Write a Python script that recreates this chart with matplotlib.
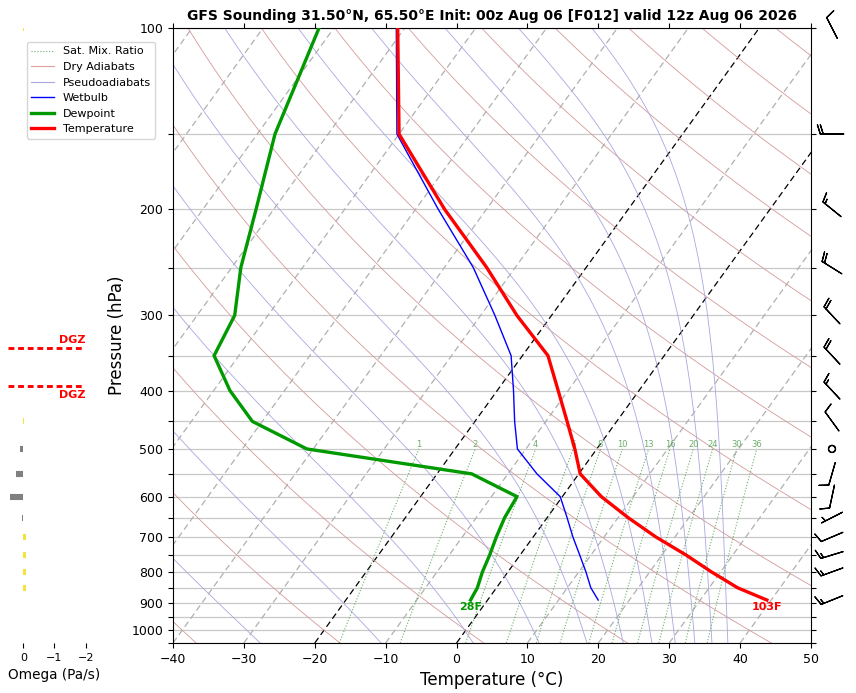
import numpy as np
import matplotlib
matplotlib.use('Agg')
import matplotlib.pyplot as plt
import matplotlib.transforms as mtransforms
from matplotlib.lines import Line2D
from matplotlib.ticker import FixedLocator, FixedFormatter, NullLocator

# ---------------- data ----------------
pressure = [891, 850, 800, 750, 700, 650, 600, 550, 500, 450, 400, 350, 300, 250, 200, 150, 100]
temperature = [39.4, 34.0, 28.7, 23.4, 17.3, 11.4, 5.5, 0.2, -3.1, -7.0, -11.4, -16.4, -24.9, -34.0, -45.9, -60.0, -71.0]
dewpoint = [-2.4, -2.7, -3.6, -4.3, -5.2, -6.0, -6.4, -15.1, -40.9, -51.4, -57.7, -63.5, -64.7, -68.7, -72.5, -77.5, -82.1]
wetbulb = [15.6, 13.3, 11.0, 8.4, 5.6, 2.8, -0.3, -5.9, -11.2, -14.4, -17.7, -21.6, -28.0, -35.9, -46.8, -60.3, -71.2]

barb_pressure = [891, 800, 750, 700, 650, 600, 550, 500, 450, 400, 350, 300, 250, 200, 150, 100]
wind_dir = [248, 250, 253, 247, 243, 192, 196, 0, 324, 317, 317, 317, 302, 309, 270, 333]
wind_speed = [15, 15, 15, 10, 5, 10, 10, 0, 10, 15, 20, 20, 20, 15, 20, 10]

omega_pressure = [850, 800, 750, 700, 650, 600, 550, 500, 450, 300, 250, 200, 100]
omega = [-0.08, -0.08, -0.08, -0.08, 0.04, 0.43, 0.23, 0.12, -0.02, 0.02, 0.02, 0.02, -0.02]

mix_ratios = [1, 2, 4, 6, 8, 10, 13, 16, 20, 24, 30, 36]
dry_thetas = list(range(-40, 241, 20))
pseudo_theta_e = list(range(-30, 171, 20))
isotherms = list(range(-150, 51, 10))

title = "GFS Sounding 31.50°N, 65.50°E Init: 00z Aug 06 [F012] valid 12z Aug 06 2026"
xticks = list(range(-40, 51, 10))
yticks = list(range(100, 1051, 50))

# ---------------- figure ----------------
W, H = 856, 693
fig = plt.figure(figsize=(W / 100, H / 100), dpi=100)
ax_l, ax_r, ax_t, ax_b = 173, 811, 28, 643
rect = [ax_l / W, 1 - ax_b / H, (ax_r - ax_l) / W, (ax_b - ax_t) / H]
ax = fig.add_axes(rect)
ax.set_yscale('log')
ax.set_ylim(1050, 100)
ax.set_xlim(-40, 50)

skew_total = 62.7  # degC shift from bottom to top
skew = mtransforms.Affine2D().skew(np.arctan(skew_total / 90.0), 0)
tr = ax.transScale + ax.transLimits + skew + ax.transAxes

# grid
ax.yaxis.set_major_locator(FixedLocator(yticks))
ax.yaxis.set_minor_locator(NullLocator())
ax.yaxis.set_major_formatter(FixedFormatter([str(v) if v % 100 == 0 else '' for v in yticks]))
ax.set_xticks(xticks)
ax.tick_params(axis='both', labelsize=9)
ax.tick_params(axis='y', left=True, right=True)
ax.tick_params(axis='x', top=True)
ax.set_axisbelow(True)
ax.yaxis.grid(True, color='#c8c8c8', lw=0.9)

# isotherms
for t in isotherms:
    col = 'black' if t in (0, -20) else '#b0b0b0'
    ax.plot([t, t], [1050, 100], transform=tr, color=col, lw=0.9, ls=(0, (5, 3)), zorder=1.5)

pgrid = np.logspace(np.log10(1050), 2, 200)

# dry adiabats
for th in dry_thetas:
    tt = (th + 273.15) * (pgrid / 1000.0) ** 0.2857 - 273.15
    ax.plot(tt, pgrid, transform=tr, color='#d49a9a', lw=0.6, zorder=1.6)

# pseudoadiabats: integrate moist lapse rate from 100 hPa down
Rd, cp, Lv, eps = 287.04, 1005.7, 2.501e6, 0.622
def dTdlnp(p, T):
    Tc = T - 273.15
    es = 6.112 * np.exp(17.67 * Tc / (Tc + 243.5))
    rs = eps * es / (p - es)
    return (Rd * T + Lv * rs) / (cp + Lv * Lv * rs * eps / (Rd * T * T))

lnp = np.linspace(np.log(100.0), np.log(1050.0), 400)
T = (np.array(pseudo_theta_e, float) + 273.15) * (100.0 / 1000.0) ** 0.2857
prof = [T.copy()]
for i in range(len(lnp) - 1):
    h = lnp[i + 1] - lnp[i]
    p0 = np.exp(lnp[i]); pm = np.exp(lnp[i] + h / 2); p1 = np.exp(lnp[i + 1])
    k1 = dTdlnp(p0, T)
    k2 = dTdlnp(pm, T + h / 2 * k1)
    k3 = dTdlnp(pm, T + h / 2 * k2)
    k4 = dTdlnp(p1, T + h * k3)
    T = T + h / 6 * (k1 + 2 * k2 + 2 * k3 + k4)
    prof.append(T.copy())
prof = np.array(prof) - 273.15
pp = np.exp(lnp)
for j in range(prof.shape[1]):
    ax.plot(prof[:, j], pp, transform=tr, color='#a8a8e0', lw=0.6, zorder=1.6)

# mixing ratio lines
pmix = np.linspace(1050, 500, 60)
for w in mix_ratios:
    e = pmix * w / (622.0 + w)
    lg = np.log(e / 6.112)
    td = 243.5 * lg / (17.67 - lg)
    ax.plot(td, pmix, transform=tr, color='#4a9a4a', lw=0.8, ls=':', alpha=0.8, zorder=1.7)
    ax.text(td[-1], 500, str(w), transform=tr, color='#5aa55a', fontsize=6,
            ha='center', va='bottom', alpha=0.9, zorder=1.7)

# profiles
ax.plot(wetbulb, pressure, transform=tr, color='blue', lw=1.0, zorder=3)
ax.plot(dewpoint, pressure, transform=tr, color='#009a00', lw=2.4, zorder=4)
ax.plot(temperature, pressure, transform=tr, color='red', lw=2.4, zorder=5)

tf = temperature[0] * 9 / 5 + 32
tdf = dewpoint[0] * 9 / 5 + 32
ax.annotate(f"{tf:.0f}F", (temperature[0], pressure[0]), xycoords=tr, xytext=(0, -1.5),
            textcoords='offset points', color='red', fontsize=8,
            fontweight='bold', ha='center', va='top', zorder=6)
ax.annotate(f"{tdf:.0f}F", (dewpoint[0], pressure[0]), xycoords=tr, xytext=(0, -1.5),
            textcoords='offset points', color='#009a00', fontsize=8,
            fontweight='bold', ha='center', va='top', zorder=6)

ax.set_xlabel('Temperature (°C)', fontsize=12)
ax.set_ylabel('Pressure (hPa)', fontsize=12)
ax.set_title(title, fontsize=10, fontweight='bold')

# legend
handles = [
    Line2D([], [], color='#4a9a4a', lw=0.8, ls=':', alpha=0.8),
    Line2D([], [], color='#e0a0a0', lw=0.8),
    Line2D([], [], color='#a8a8e0', lw=0.8),
    Line2D([], [], color='blue', lw=1.0),
    Line2D([], [], color='#009a00', lw=2.4),
    Line2D([], [], color='red', lw=2.4),
]
labels = ['Sat. Mix. Ratio', 'Dry Adiabats', 'Pseudoadiabats', 'Wetbulb', 'Dewpoint', 'Temperature']
fig.legend(handles, labels, loc='upper left', bbox_to_anchor=(27 / W, 1 - 42 / H),
           fontsize=8, borderaxespad=0)

# wind barbs
axw = fig.add_axes([812 / W, 1 - ax_b / H, 40 / W, (ax_b - ax_t) / H])
axw.set_yscale('log')
axw.set_ylim(1050, 100)
axw.set_xlim(0, 1)
axw.axis('off')
wd = np.radians(wind_dir)
ws = np.array(wind_speed, float)
u = -ws * np.sin(wd)
v = -ws * np.cos(wd)
axw.barbs(np.full(len(barb_pressure), 0.5), barb_pressure, u, v, length=5.8,
          pivot='middle', linewidth=0.9, clip_on=False)

# omega panel
o_left_px = 7.7
o_w_px = 93.6
axo = fig.add_axes([o_left_px / W, 1 - ax_b / H, o_w_px / W, (ax_b - ax_t) / H])
axo.set_yscale('log')
axo.set_ylim(1050, 100)
axo.set_xlim(0.5, -2.5)
for s in axo.spines.values():
    s.set_visible(False)
axo.set_yticks([])
axo.yaxis.set_minor_locator(NullLocator())
axo.set_xticks([0, -1, -2])
axo.tick_params(axis='x', labelsize=8)
axo.set_xlabel('Omega (Pa/s)', fontsize=9.8)
ocolors = ['#f2e43a' if o < 0 else '#808080' for o in omega]
axo.hlines(omega_pressure, 0, omega, colors=ocolors, lw=4.4)

# DGZ from temperature profile
lp = np.log(np.array(pressure[::-1], float))
tv = np.array(temperature[::-1], float)   # increasing
p_m18 = float(np.exp(np.interp(-18, tv, lp)))
p_m12 = float(np.exp(np.interp(-12, tv, lp)))
for pz, off, va in [(p_m18, 2.5, 'bottom'), (p_m12, -2.5, 'top')]:
    axo.plot([0.48, -1.94], [pz, pz], color='red', lw=2.1, ls=(0, (2.0, 1.3)))
    axo.annotate('DGZ', (-1.98, pz), xytext=(0, off), textcoords='offset points',
                 color='red', fontsize=8, fontweight='bold', ha='right', va=va)

fig.savefig('out.png', dpi=100)
